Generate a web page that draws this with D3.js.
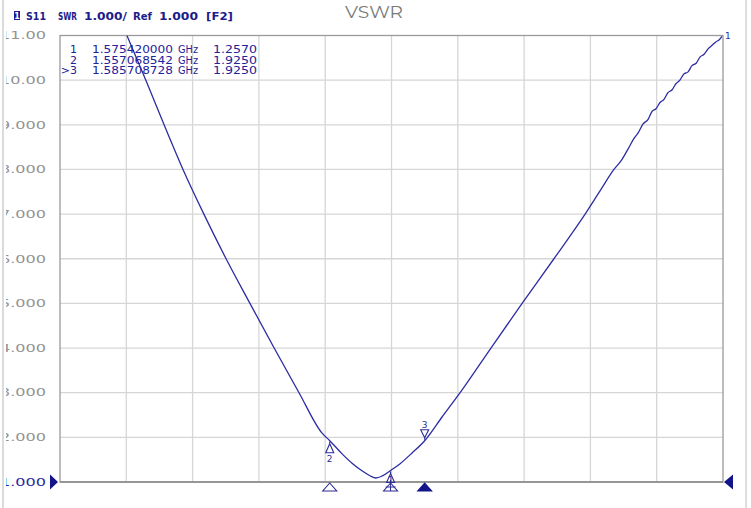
<!DOCTYPE html>
<html>
<head>
<meta charset="utf-8">
<script src="https://cdn.jsdelivr.net/npm/d3@7"></script>
<style>
body { margin: 0; background: #fff; }
svg { display: block; }
</style>
</head>
<body>
<div id="chart"></div>
<script>
var freqs = [1.4959, 1.5016, 1.5071, 1.5128, 1.5191, 1.5258, 1.5330, 1.5403, 1.5478, 1.5547,
    1.557068542, 1.5608, 1.5638, 1.5668, 1.5692, 1.5710, 1.5728, 1.57542, 1.5783, 1.5819,
    1.585708728, 1.5909, 1.5964, 1.6057, 1.6151, 1.6247, 1.6341, 1.6386, 1.6428, 1.6452,
    1.6470, 1.6489, 1.6501, 1.6516, 1.6531, 1.6543, 1.6555, 1.6567, 1.6579, 1.6591,
    1.6603, 1.6615, 1.6627, 1.6639, 1.6651, 1.6664, 1.6676, 1.6688, 1.6700, 1.6712,
    1.6724, 1.6736, 1.6745, 1.6754];
var swr = [11.0, 10.0, 9.0, 8.0, 7.0, 6.0, 5.0, 4.0, 3.0, 2.1,
    1.925, 1.63, 1.42, 1.25, 1.14, 1.09, 1.13, 1.257, 1.41, 1.65,
    1.925, 2.45, 3.0, 4.0, 5.0, 6.0, 7.0, 7.52, 8.0, 8.22,
    8.45, 8.70, 8.82, 9.02, 9.12, 9.30, 9.36, 9.50, 9.57, 9.72,
    9.78, 9.92, 10.0, 10.14, 10.18, 10.33, 10.38, 10.52, 10.58, 10.70,
    10.78, 10.86, 10.90, 10.98];

var yTicks = [11, 10, 9, 8, 7, 6, 5, 4, 3, 2, 1];
var yTickLabels = ['11.00', '10.00', '9.000', '8.000', '7.000', '6.000', '5.000', '4.000', '3.000', '2.000', '1.000'];

var markerIds = ['1', '2', '3'];
var markerFreqs = [1.57542, 1.557068542, 1.585708728];
var markerSwr = [1.257, 1.925, 1.925];

var startFreq = 1.4757, stopFreq = 1.6757;
//end data

var width = 751, height = 508;
var plotLeft = 60, plotRight = 723, plotTop = 35.5, plotBottom = 482;
var traceColor = '#2c2ca4';
var markColor = '#2c2c96';

var svg = d3.select('#chart').append('svg')
    .attr('width', width)
    .attr('height', height)
    .style('font-family', 'DejaVu Sans, Verdana, sans-serif');

var x = d3.scaleLinear().domain([startFreq, stopFreq]).range([plotLeft, plotRight]);
var y = d3.scaleLinear().domain([1, 11]).range([plotBottom, plotTop]);
var xDiv = d3.scaleLinear().domain([0, 10]).range([plotLeft, plotRight]);

var defs = svg.append('defs');
defs.append('clipPath').attr('id', 'plotClip')
    .append('rect').attr('x', plotLeft).attr('y', plotTop)
    .attr('width', plotRight - plotLeft).attr('height', plotBottom - plotTop);
defs.append('clipPath').attr('id', 'labelClip')
    .append('rect').attr('x', 6).attr('y', 0).attr('width', 60).attr('height', height);

//screen shot edges
svg.append('line').attr('x1', 3).attr('x2', 3).attr('y1', 0).attr('y2', height)
    .attr('stroke', '#cfcfcf').attr('stroke-width', 1.5);
svg.append('line').attr('x1', 746).attr('x2', 746).attr('y1', 0).attr('y2', height)
    .attr('stroke', '#dedede').attr('stroke-width', 2);

//grid
svg.append('g').selectAll('line')
    .data(d3.range(1, 10))
    .enter().append('line')
    .attr('x1', function(d){ return xDiv(d); })
    .attr('x2', function(d){ return xDiv(d); })
    .attr('y1', plotTop).attr('y2', plotBottom)
    .attr('stroke', '#d6d6d6').attr('stroke-width', 1.3);

svg.append('g').selectAll('line')
    .data(yTicks.slice(1, -1))
    .enter().append('line')
    .attr('x1', plotLeft).attr('x2', plotRight)
    .attr('y1', function(d){ return y(d); })
    .attr('y2', function(d){ return y(d); })
    .attr('stroke', '#d6d6d6').attr('stroke-width', 1.3);

//frame
svg.append('rect')
    .attr('x', plotLeft).attr('y', plotTop)
    .attr('width', plotRight - plotLeft).attr('height', plotBottom - plotTop)
    .attr('fill', 'none').attr('stroke', '#9a9a9a').attr('stroke-width', 1.3);
svg.append('line').attr('x1', plotLeft).attr('x2', plotRight).attr('y1', plotBottom).attr('y2', plotBottom)
    .attr('stroke', '#8a8a8a').attr('stroke-width', 1.6);

//y labels (the screen shot cuts off their first digit)
svg.append('g').attr('clip-path', 'url(#labelClip)')
    .selectAll('text')
    .data(yTicks)
    .enter().append('text')
    .attr('x', 46)
    .attr('y', function(d){ return y(d); })
    .attr('dy', '0.36em')
    .attr('text-anchor', 'end')
    .attr('textLength', 46)
    .attr('lengthAdjust', 'spacingAndGlyphs')
    .style('font-size', '10.5px')
    .attr('fill', function(d){ return d === 1 ? '#2a2aa0' : '#939393'; })
    .text(function(d, i){ return yTickLabels[i]; });

//title
svg.append('text')
    .attr('x', 374).attr('y', 18)
    .attr('text-anchor', 'middle')
    .attr('textLength', 58)
    .attr('lengthAdjust', 'spacingAndGlyphs')
    .style('font-family', 'Montserrat, Open Sans, sans-serif')
    .style('font-size', '17px')
    .attr('fill', '#7a7a7a')
    .text('VSWR');

//header line
svg.append('rect').attr('x', 14).attr('y', 11).attr('width', 6).attr('height', 9).attr('fill', '#1c1c8c');
svg.append('text').attr('x', 17).attr('y', 19).attr('text-anchor', 'middle')
    .style('font-size', '8px').style('font-weight', 'bold').attr('fill', '#fff').text('1');

var header = [
    {t: 'S11', x: 26, w: 20},
    {t: 'SWR', x: 58, w: 19},
    {t: '1.000/', x: 84, w: 43},
    {t: 'Ref', x: 133, w: 19},
    {t: '1.000', x: 159, w: 39},
    {t: '[F2]', x: 206, w: 27}
];
svg.append('g').selectAll('text')
    .data(header)
    .enter().append('text')
    .attr('x', function(d){ return d.x; })
    .attr('y', 20)
    .attr('textLength', function(d){ return d.w; })
    .attr('lengthAdjust', 'spacingAndGlyphs')
    .style('font-size', '10px')
    .style('font-weight', '600')
    .attr('fill', '#1c1c8c')
    .text(function(d){ return d.t; });

//trace
var lineFunc = d3.line()
    .x(function(d, i){ return x(freqs[i]); })
    .y(function(d){ return y(d); })
    .curve(d3.curveMonotoneX);

svg.append('path')
    .datum(swr)
    .attr('clip-path', 'url(#plotClip)')
    .attr('d', lineFunc)
    .attr('fill', 'none')
    .attr('stroke', traceColor)
    .attr('stroke-width', 1.3);

svg.append('text')
    .attr('x', x(stopFreq) + 2).attr('y', plotTop + 3)
    .style('font-size', '9px')
    .attr('fill', traceColor)
    .text('1');

//marker table
var fmtF = d3.format('.9f');
var fmtV = d3.format('.4f');
var table = svg.append('g').style('font-size', '11px').attr('fill', '#22229a');
markerIds.forEach(function(id, i){
    var rowY = 53 + i * 10.5;
    var active = i === 2;
    table.append('text')
        .attr('x', 77).attr('y', rowY).attr('text-anchor', 'end')
        .text(active ? '>' + id : id);
    table.append('text')
        .attr('x', 92).attr('y', rowY)
        .attr('textLength', 81).attr('lengthAdjust', 'spacingAndGlyphs')
        .text(fmtF(markerFreqs[i]));
    table.append('text')
        .attr('x', 178).attr('y', rowY)
        .attr('textLength', 20).attr('lengthAdjust', 'spacingAndGlyphs')
        .text('GHz');
    table.append('text')
        .attr('x', 213).attr('y', rowY)
        .attr('textLength', 44).attr('lengthAdjust', 'spacingAndGlyphs')
        .text(fmtV(markerSwr[i]));
});

//markers on the trace
markerIds.forEach(function(id, i){
    var mx = x(markerFreqs[i]);
    var my = y(markerSwr[i]);
    var g = svg.append('g');
    if(id === '3'){
        //down triangle above the trace
        g.append('path')
            .attr('d', 'M' + mx + ',' + (my - 1) + 'L' + mx + ',' + (my - 3) +
                'M' + (mx - 4) + ',' + (my - 11) + 'L' + (mx + 4) + ',' + (my - 11) + 'L' + mx + ',' + (my - 3) + 'Z')
            .attr('fill', 'none').attr('stroke', markColor).attr('stroke-width', 1.1);
        g.append('text').attr('x', mx).attr('y', my - 13).attr('text-anchor', 'middle')
            .style('font-size', '9px').attr('fill', markColor).text(id);
    }
    else {
        g.append('path')
            .attr('d', 'M' + mx + ',' + (my + 1) + 'L' + mx + ',' + (my + 3) +
                'M' + (mx - 4) + ',' + (my + 12) + 'L' + (mx + 4) + ',' + (my + 12) + 'L' + mx + ',' + (my + 3) + 'Z')
            .attr('fill', 'none').attr('stroke', markColor).attr('stroke-width', 1.1);
        g.append('text').attr('x', mx).attr('y', id === '1' ? my + 12 : my + 21).attr('text-anchor', 'middle')
            .style('font-size', '9px').attr('fill', markColor).text(id);
    }

    //stimulus triangles under the plot
    svg.append('path')
        .attr('d', 'M' + (mx - 7) + ',' + (plotBottom + 9) + 'L' + (mx + 7) + ',' + (plotBottom + 9) + 'L' + mx + ',' + (plotBottom + 1) + 'Z')
        .attr('fill', id === '3' ? '#14148a' : '#fff')
        .attr('stroke', id === '3' ? '#14148a' : markColor)
        .attr('stroke-width', 1.1);
    if(id === '1'){
        svg.append('path')
            .attr('d', 'M' + (mx - 5) + ',' + (plotBottom + 5) + 'L' + (mx + 5) + ',' + (plotBottom + 5) +
                'M' + mx + ',' + (plotBottom - 2) + 'L' + mx + ',' + (plotBottom + 9))
            .attr('fill', 'none').attr('stroke', markColor).attr('stroke-width', 1);
    }
});

//reference level arrows
svg.append('path')
    .attr('d', 'M' + (plotLeft - 10) + ',' + (plotBottom - 7.5) + 'L' + (plotLeft - 2) + ',' + plotBottom +
        'L' + (plotLeft - 10) + ',' + (plotBottom + 7.5) + 'Z')
    .attr('fill', '#14148a');
svg.append('path')
    .attr('d', 'M' + (plotRight + 10) + ',' + (plotBottom - 7.5) + 'L' + (plotRight + 1) + ',' + plotBottom +
        'L' + (plotRight + 10) + ',' + (plotBottom + 7.5) + 'Z')
    .attr('fill', '#14148a');
</script>
</body>
</html>
